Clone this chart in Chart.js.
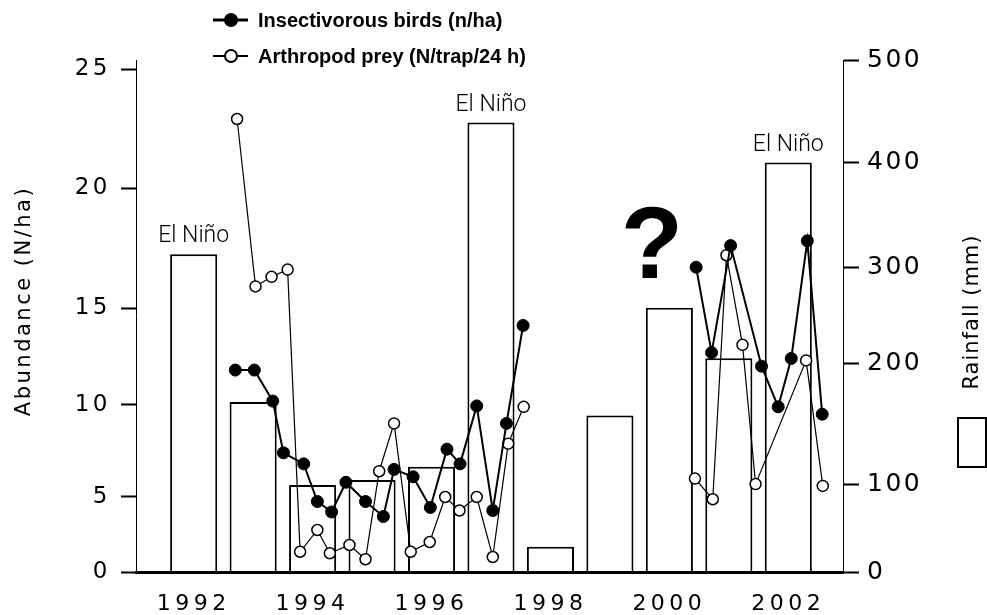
<!DOCTYPE html>
<html>
<head>
<meta charset="utf-8">
<script src="https://cdn.jsdelivr.net/npm/chart.js@4.4.0/dist/chart.umd.min.js"></script>
<style>
  html, body { margin: 0; background: #fff; }
  #wrap { width: 987px; height: 615px; position: relative; }
</style>
</head>
<body>
<div id="wrap"><canvas id="chart"></canvas></div>
<script>
"use strict";
const yearTicks = [1992, 1994, 1996, 1998, 2000, 2002];
const abundanceTicks = [0, 5, 10, 15, 20, 25];
const rainTicks = [0, 100, 200, 300, 400, 500];

const rainYears = [1992, 1993, 1994, 1995, 1996, 1997, 1998, 1999, 2000, 2001, 2002];
const rainfall = [313, 168, 100, 104, 115, 439, 29, 157, 258, 205, 400];
const elNinoYears = [1992, 1997, 2002];

// null = no sampling (1998-2000)
const birdYears = [1992.70, 1993.02, 1993.33, 1993.51, 1993.85, 1994.08, 1994.32, 1994.56, 1994.89,
    1995.19, 1995.37, 1995.69, 1995.98, 1996.26, 1996.48, 1996.76, 1997.03, 1997.26, 1997.54,
    1999.0, 2000.45, 2000.71, 2001.03, 2001.55, 2001.83, 2002.05, 2002.32, 2002.57];
const birdCounts = [11.8, 11.8, 10.2, 7.4, 6.8, 4.7, 4.0, 5.8, 4.7,
    3.7, 6.5, 6.1, 4.3, 7.6, 6.8, 9.95, 4.1, 9.0, 14.1,
    null, 16.7, 12.7, 17.6, 12.0, 9.9, 12.4, 17.8, 9.5];

const preyYears = [1992.73, 1993.04, 1993.31, 1993.58, 1993.79, 1994.08, 1994.29, 1994.62, 1994.89,
    1995.12, 1995.37, 1995.65, 1995.97, 1996.23, 1996.47, 1996.76, 1997.03, 1997.29, 1997.55,
    1999.0, 2000.43, 2000.73, 2000.96, 2001.23, 2001.45, 2002.30, 2002.58];
const preyCounts = [22.9, 15.9, 16.3, 16.6, 1.35, 2.8, 1.25, 1.8, 0.85,
    6.4, 9.0, 1.35, 2.0, 5.0, 4.1, 5.0, 1.0, 7.9, 9.9,
    null, 6.0, 4.85, 17.2, 13.1, 5.7, 12.3, 5.6];

// linear scale whose value->pixel mapping can follow the hand-drawn (uneven) axis
class BrokenLinear extends Chart.LinearScale {
    _toDecimal(value) {
        const v = this.options.breakValues, f = this.options.breakFractions;
        if (!v) return (value - this._startValue) / this._valueRange;
        for (let i = 1; i < v.length; i++) {
            if (value <= v[i] || i === v.length - 1) {
                return f[i - 1] + (value - v[i - 1]) / (v[i] - v[i - 1]) * (f[i] - f[i - 1]);
            }
        }
    }
    getPixelForValue(value) {
        if (value === null || value === undefined) return NaN;
        return this.getPixelForDecimal(this._toDecimal(value));
    }
    getValueForPixel(pixel) {
        const d = this.getDecimalForPixel(pixel);
        const v = this.options.breakValues, f = this.options.breakFractions;
        if (!v) return this._startValue + d * this._valueRange;
        for (let i = 1; i < f.length; i++) {
            if (d <= f[i] || i === f.length - 1) {
                return v[i - 1] + (d - f[i - 1]) / (f[i] - f[i - 1]) * (v[i] - v[i - 1]);
            }
        }
    }
    drawLabels(area) {
        const ctx = this.ctx;
        ctx.save();
        ctx.letterSpacing = this.options.letterSpacing || '0px';
        super.drawLabels(area);
        ctx.restore();
    }
}
BrokenLinear.id = 'brokenLinear';
BrokenLinear.defaults = Chart.LinearScale.defaults;
Chart.register(BrokenLinear);

const extras = {
    id: 'extras',
    afterDraw(chart) {
        const ctx = chart.ctx;
        ctx.save();
        ctx.fillStyle = '#000';
        ctx.strokeStyle = '#000';
        ctx.letterSpacing = '0px';

        // El Niño labels over the bars
        const bars = chart.getDatasetMeta(2).data;
        ctx.font = '300 23px Roboto, "Liberation Sans", sans-serif';
        ctx.textAlign = 'center';
        ctx.textBaseline = 'bottom';
        elNinoYears.forEach(yr => {
            const bar = bars[rainYears.indexOf(yr)];
            ctx.fillText('El Niño', bar.x, bar.y - 6);
        });

        // question mark for the missing years
        ctx.font = 'bold 102px "Liberation Sans", Arial, sans-serif';
        ctx.textBaseline = 'alphabetic';
        ctx.fillText('?', 652, 278);

        // legend
        const rows = [
            { y: 20, fill: '#000', text: 'Insectivorous birds (n/ha)', lw: 3 },
            { y: 56, fill: '#fff', text: 'Arthropod prey (N/trap/24 h)', lw: 2 }
        ];
        ctx.font = 'bold 20px "Liberation Sans", Arial, sans-serif';
        ctx.textAlign = 'left';
        ctx.textBaseline = 'middle';
        rows.forEach(r => {
            ctx.lineWidth = r.lw;
            ctx.beginPath();
            ctx.moveTo(213, r.y);
            ctx.lineTo(248, r.y);
            ctx.stroke();
            ctx.beginPath();
            ctx.arc(231, r.y, 6, 0, Math.PI * 2);
            ctx.fillStyle = r.fill;
            ctx.fill();
            ctx.lineWidth = 2;
            ctx.stroke();
            ctx.fillStyle = '#000';
            ctx.fillText(r.text, 258, r.y + 1);
        });

        // axis titles
        ctx.font = '21px "DejaVu Sans", sans-serif';
        ctx.textAlign = 'center';
        ctx.letterSpacing = '2.5px';
        ctx.save();
        ctx.translate(25, 301);
        ctx.rotate(-Math.PI / 2);
        ctx.fillText('Abundance (N/ha)', 0, 0);
        ctx.restore();

        ctx.letterSpacing = '1px';
        ctx.save();
        ctx.translate(973, 312);
        ctx.rotate(-Math.PI / 2);
        ctx.fillText('Rainfall (mm)', 0, 0);
        ctx.restore();

        // rainfall legend box
        ctx.lineWidth = 2;
        ctx.strokeRect(958, 418, 28, 49);
        ctx.restore();
    }
};

new Chart(document.getElementById('chart'), {
    type: 'bar',
    data: {
        datasets: [{
            type: 'line',
            label: 'Insectivorous birds (n/ha)',
            data: birdYears.map((x, i) => ({ x: x, y: birdCounts[i] })),
            yAxisID: 'y',
            borderColor: '#000',
            borderWidth: 2,
            pointRadius: 6,
            pointBackgroundColor: '#000',
            pointBorderColor: '#000',
            pointBorderWidth: 1,
            tension: 0,
            spanGaps: false,
            order: 0
        }, {
            type: 'line',
            label: 'Arthropod prey (N/trap/24 h)',
            data: preyYears.map((x, i) => ({ x: x, y: preyCounts[i] })),
            yAxisID: 'y',
            borderColor: '#000',
            borderWidth: 1.2,
            pointRadius: 5.5,
            pointBackgroundColor: '#fff',
            pointBorderColor: '#000',
            pointBorderWidth: 1.5,
            tension: 0,
            spanGaps: false,
            order: 1
        }, {
            type: 'bar',
            label: 'Rainfall (mm)',
            data: rainYears.map((x, i) => ({ x: x, y: rainfall[i] })),
            yAxisID: 'yR',
            backgroundColor: '#fff',
            borderColor: '#000',
            borderWidth: 2,
            categoryPercentage: 0.8,
            barPercentage: 0.99,
            order: 2
        }]
    },
    options: {
        responsive: true,
        maintainAspectRatio: false,
        animation: false,
        events: [],
        layout: { padding: { top: 60, left: 0, right: 0, bottom: 0 } },
        plugins: {
            legend: { display: false },
            tooltip: { enabled: false }
        },
        scales: {
            x: {
                type: 'brokenLinear',
                offset: false,
                min: 1991.03,
                max: 2002.92,
                afterBuildTicks: s => { s.ticks = yearTicks.map(v => ({ value: v })); },
                afterFit: s => { s.height = 43; },
                grid: { display: false, drawTicks: false },
                border: { color: '#000', width: 3, z: 1 },
                ticks: { padding: 19, font: { family: 'DejaVu Sans', size: 22 }, color: '#000',
                    maxRotation: 0, autoSkip: false, callback: v => String(v) },
                letterSpacing: '4.5px'
            },
            y: {
                type: 'brokenLinear',
                position: 'left',
                min: 0,
                max: 25,
                breakValues: [0, 5, 10, 15, 20, 25],
                breakFractions: [0, 0.1465, 0.3262, 0.5156, 0.75, 0.9824],
                afterBuildTicks: s => { s.ticks = abundanceTicks.map(v => ({ value: v })); },
                afterFit: s => { s.width = 136; },
                grid: { drawOnChartArea: false, drawTicks: true, tickLength: 15, tickWidth: 2, tickColor: '#000' },
                border: { color: '#000', width: 1 },
                ticks: { padding: 10, font: { family: 'DejaVu Sans', size: 23 }, color: '#000',
                    callback: v => String(v) },
                letterSpacing: '3.5px'
            },
            yR: {
                type: 'brokenLinear',
                position: 'right',
                min: 0,
                max: 500,
                breakValues: [0, 100, 200, 300, 400, 500],
                breakFractions: [0, 0.170, 0.408, 0.594, 0.800, 1],
                afterBuildTicks: s => { s.ticks = rainTicks.map(v => ({ value: v })); },
                afterFit: s => { s.width = 144; },
                grid: { drawOnChartArea: false, drawTicks: true, tickLength: 16, tickWidth: 2, tickColor: '#000' },
                border: { color: '#000', width: 1 },
                ticks: { padding: 8, font: { family: 'DejaVu Sans', size: 25 }, color: '#000',
                    callback: v => String(v) },
                letterSpacing: '2.5px'
            }
        }
    },
    plugins: [extras]
});
</script>
</body>
</html>
